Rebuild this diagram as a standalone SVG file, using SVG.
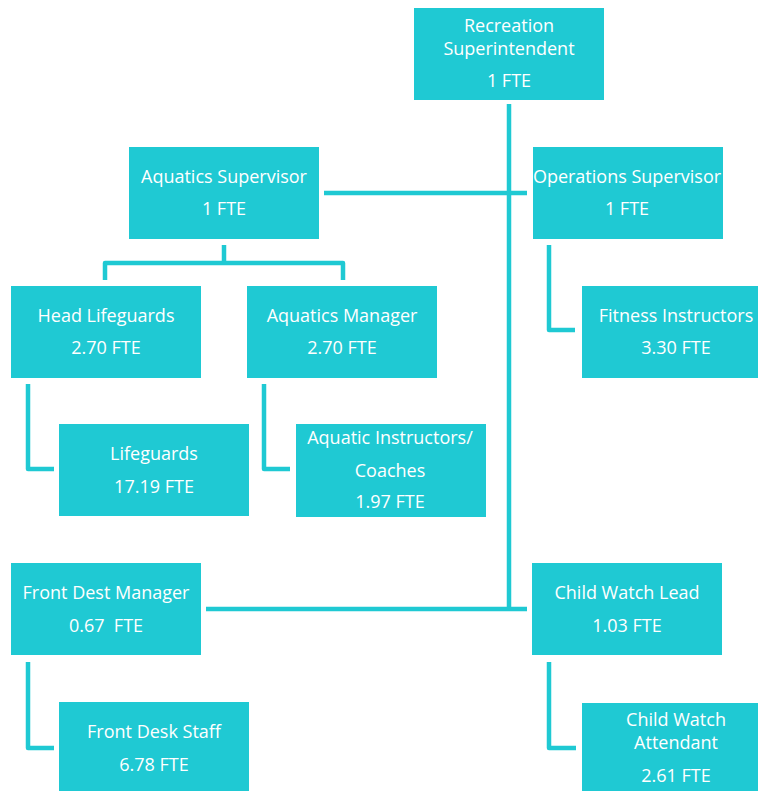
<svg xmlns="http://www.w3.org/2000/svg" width="758" height="791" viewBox="0 0 758 791">
  <style>
    .box { fill: #1fc9d3; }
    .lbl { font-family: "Open Sans", "Noto Sans", sans-serif; font-size: 18px; fill: #ffffff; text-anchor: middle; }
    .wire { fill: none; stroke: #1fc9d3; stroke-width: 4.5; stroke-linejoin: round; }
  </style>
  <rect width="758" height="791" fill="#ffffff"/>

  <!-- connectors -->
  <g id="connectors">
    <path class="wire" d="M509 104 V610"/>
    <path class="wire" d="M324 193 H527"/>
    <path class="wire" d="M206 609 H527"/>
    <path class="wire" d="M224 245 V263"/>
    <path class="wire" d="M105 280 V263 H343 V280"/>
    <path class="wire" d="M28 384 V469 H54"/>
    <path class="wire" d="M264 384 V469 H290"/>
    <path class="wire" d="M549 245 V330 H575"/>
    <path class="wire" d="M28 662 V748 H54"/>
    <path class="wire" d="M549 662 V748 H576"/>
  </g>

  <g id="recreation-superintendent">
    <rect class="box" x="414" y="8" width="190" height="92"/>
    <text class="lbl" x="509" y="32">Recreation</text>
    <text class="lbl" x="509" y="55">Superintendent</text>
    <text class="lbl" x="509" y="87">1 FTE</text>
  </g>

  <g id="aquatics-supervisor">
    <rect class="box" x="129" y="147" width="190" height="92"/>
    <text class="lbl" x="224" y="183">Aquatics Supervisor</text>
    <text class="lbl" x="224" y="215">1 FTE</text>
  </g>

  <g id="operations-supervisor">
    <rect class="box" x="533" y="147" width="190" height="92"/>
    <text class="lbl" x="627" y="183">Operations Supervisor</text>
    <text class="lbl" x="627" y="215">1 FTE</text>
  </g>

  <g id="head-lifeguards">
    <rect class="box" x="11" y="286" width="190" height="92"/>
    <text class="lbl" x="106" y="322">Head Lifeguards</text>
    <text class="lbl" x="106" y="354">2.70 FTE</text>
  </g>

  <g id="aquatics-manager">
    <rect class="box" x="247" y="286" width="190" height="92"/>
    <text class="lbl" x="342" y="322">Aquatics Manager</text>
    <text class="lbl" x="342" y="354">2.70 FTE</text>
  </g>

  <g id="fitness-instructors">
    <rect class="box" x="582" y="286" width="190" height="92"/>
    <text class="lbl" x="676" y="322">Fitness Instructors</text>
    <text class="lbl" x="676" y="354">3.30 FTE</text>
  </g>

  <g id="lifeguards">
    <rect class="box" x="59" y="424" width="190" height="92"/>
    <text class="lbl" x="154" y="460">Lifeguards</text>
    <text class="lbl" x="154" y="493">17.19 FTE</text>
  </g>

  <g id="aquatic-instructors">
    <rect class="box" x="296" y="424" width="190" height="93"/>
    <text class="lbl" x="390" y="444">Aquatic Instructors/</text>
    <text class="lbl" x="390" y="477">Coaches</text>
    <text class="lbl" x="390" y="508">1.97 FTE</text>
  </g>

  <g id="front-desk-manager">
    <rect class="box" x="11" y="563" width="190" height="92"/>
    <text class="lbl" x="106" y="599">Front Dest Manager</text>
    <text class="lbl" x="106" y="632" xml:space="preserve">0.67  FTE</text>
  </g>

  <g id="child-watch-lead">
    <rect class="box" x="532" y="563" width="190" height="92"/>
    <text class="lbl" x="627" y="599">Child Watch Lead</text>
    <text class="lbl" x="627" y="632">1.03 FTE</text>
  </g>

  <g id="front-desk-staff">
    <rect class="box" x="59" y="702" width="190" height="92"/>
    <text class="lbl" x="154" y="738">Front Desk Staff</text>
    <text class="lbl" x="154" y="771">6.78 FTE</text>
  </g>

  <g id="child-watch-attendant">
    <rect class="box" x="582" y="703" width="190" height="92"/>
    <text class="lbl" x="676" y="726">Child Watch</text>
    <text class="lbl" x="676" y="749">Attendant</text>
    <text class="lbl" x="676" y="782">2.61 FTE</text>
  </g>
</svg>
